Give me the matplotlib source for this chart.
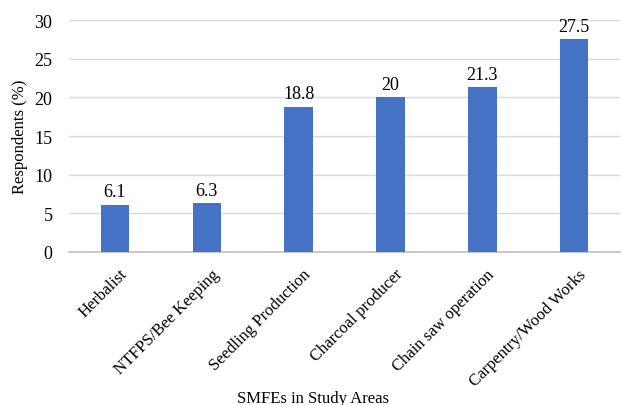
import matplotlib.pyplot as plt
import matplotlib.transforms as mtransforms
import numpy as np

# Частка респондентів за видами SMFE
categories = ['Herbalist', 'NTFPS/Bee Keeping', 'Seedling Production',
              'Charcoal producer', 'Chain saw operation', 'Carpentry/Wood Works']
values = [6.1, 6.3, 18.8, 20, 21.3, 27.5]
yticks = [0, 5, 10, 15, 20, 25, 30]

plt.rcParams['font.family'] = ['Liberation Serif', 'DejaVu Serif']

fig = plt.figure(figsize=(6.22, 4.06), dpi=100)
ax = fig.add_axes([0.111, 0.377, 0.886, 0.571])

x = np.arange(len(categories))
bars = ax.bar(x, values, width=0.31, color='#4472C4', zorder=3)

# Підписи значень над стовпцями
for xi, v in zip(x, values):
    ax.text(xi, v + 0.6, f'{v:g}', ha='center', va='bottom', fontsize=13)

ax.set_xlim(-0.5, len(categories) - 0.5)
ax.set_ylim(0, 30)
ax.set_yticks(yticks)
ax.tick_params(axis='y', length=0, labelsize=13, pad=12)
ax.tick_params(axis='x', length=0, labelsize=12, pad=10)
ax.set_xticks(x)
ax.set_xticklabels(categories, rotation=45, ha='right', va='top',
                   rotation_mode='anchor')
shift = mtransforms.ScaledTranslation(0.04, 0, fig.dpi_scale_trans)
for lbl in ax.get_xticklabels():
    lbl.set_transform(lbl.get_transform() + shift)

ax.grid(axis='y', color='#d9d9d9', linewidth=1, zorder=0)
for s in ['top', 'right', 'left']:
    ax.spines[s].set_visible(False)
ax.spines['bottom'].set_color('#bfbfbf')
ax.spines['bottom'].set_linewidth(1.2)

ax.set_ylabel('Respondents (%)', fontsize=12)
ax.yaxis.set_label_coords(-0.075, 0.5)
ax.set_xlabel('SMFEs in Study Areas', fontsize=12)
ax.xaxis.set_label_coords(0.443, -0.595)

fig.savefig('out.png', dpi=100)
